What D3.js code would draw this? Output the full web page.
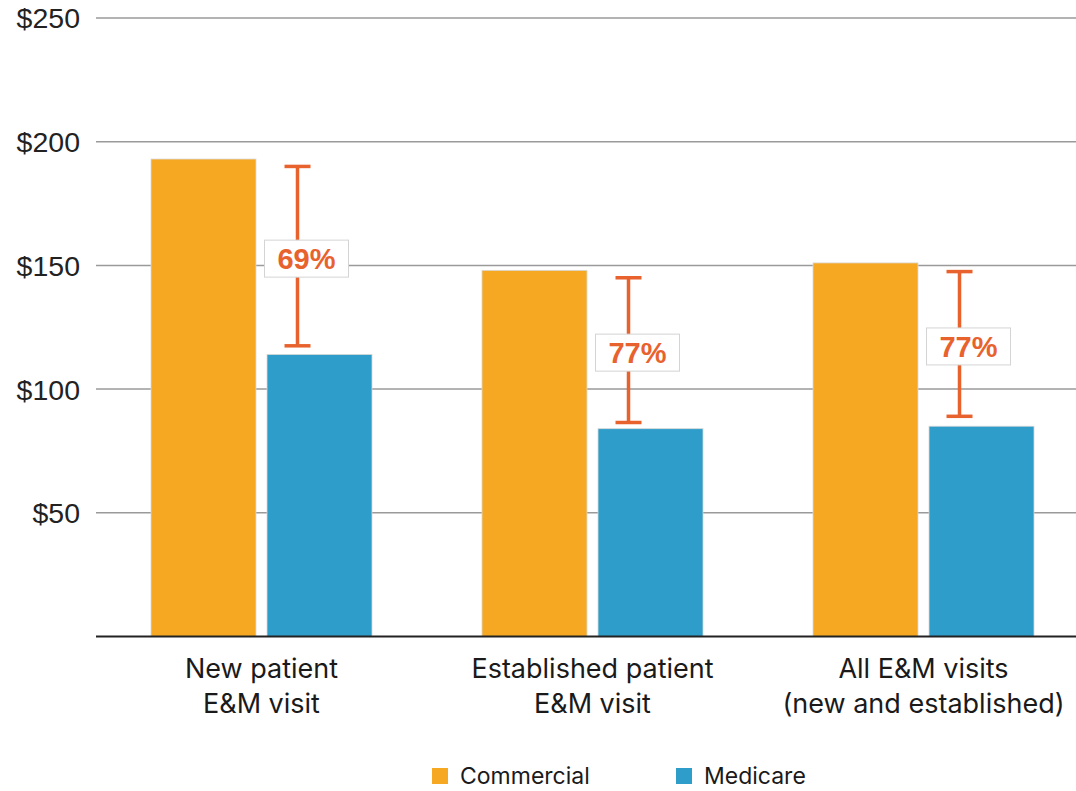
<!DOCTYPE html>
<html>
<head>
<meta charset="utf-8">
<script src="https://cdn.jsdelivr.net/npm/d3@7"></script>
<style>
  html, body { margin: 0; padding: 0; background: #fff; }
  svg { display: block; }
</style>
</head>
<body>
<svg id="chart" width="1076" height="791"></svg>
<script>
// Average payment per E&M visit, commercial vs. Medicare
const categories = [
  ["New patient", "E&M visit"],
  ["Established patient", "E&M visit"],
  ["All E&M visits", "(new and established)"]
];
const seriesNames = ["Commercial", "Medicare"];
const commercial = [193, 148, 151];
const medicare = [114, 84, 85];
// Gap bracket ends and the ratio labels drawn on them
const gapHigh = [190, 145, 147.5];
const gapLow = [117.5, 86.5, 89];
const gapLabels = ["69%", "77%", "77%"];
const yTicks = [50, 100, 150, 200, 250];

const colors = { Commercial: "#F7A823", Medicare: "#2E9DCA" };
const accent = "#E8622E";

const svg = d3.select("#chart");
const W = 1076;
const left = 96, baseY = 636.5, topY = 18;

const y = d3.scaleLinear().domain([0, 250]).range([baseY, topY]);
const x0 = d3.scaleBand().domain(d3.range(categories.length))
  .range([left, left + 331 * 3]).paddingInner(0).paddingOuter(0);
const x1 = d3.scaleBand().domain(seriesNames)
  .range([55, x0.bandwidth() - 55]).paddingInner(0.095);

// Gridlines and tick labels
const yAxis = d3.axisLeft(y).tickValues(yTicks).tickSize(0).tickFormat(d => "$" + d);
const gy = svg.append("g").attr("transform", `translate(${left},0)`).call(yAxis);
gy.select(".domain").remove();
gy.selectAll("text")
  .attr("x", -16)
  .attr("dy", "0.35em")
  .style("font-family", "Liberation Sans, Arial, sans-serif")
  .style("font-size", "28.5px")
  .attr("fill", "#222");
svg.append("g").selectAll("line").data(yTicks).join("line")
  .attr("x1", left).attr("x2", W)
  .attr("y1", d => y(d)).attr("y2", d => y(d))
  .attr("stroke", "#9a9a9a").attr("stroke-width", 1.5);

// Bars
const groups = svg.append("g").selectAll("g").data(categories).join("g")
  .attr("transform", (d, i) => `translate(${x0(i)},0)`);
groups.selectAll("rect")
  .data((d, i) => [
    { s: "Commercial", v: commercial[i] },
    { s: "Medicare", v: medicare[i] }
  ])
  .join("rect")
  .attr("x", d => x1(d.s))
  .attr("width", x1.bandwidth())
  .attr("y", d => y(d.v))
  .attr("height", d => y(0) - y(d.v))
  .attr("fill", d => colors[d.s])
  .attr("stroke", "#d8d8d8")
  .attr("stroke-width", 0.8);

// Baseline
svg.append("line")
  .attr("x1", left).attr("x2", W)
  .attr("y1", baseY).attr("y2", baseY)
  .attr("stroke", "#222").attr("stroke-width", 2);

// Gap brackets with ratio labels
const bx = i => x0(i) + x0.bandwidth() / 2 + 36;
const midY = i => (y(gapHigh[i]) + y(gapLow[i])) / 2 + 2.5;
const brackets = svg.append("g").selectAll("g").data(gapLabels).join("g");
brackets.append("line")
  .attr("x1", (d, i) => bx(i)).attr("x2", (d, i) => bx(i))
  .attr("y1", (d, i) => y(gapHigh[i])).attr("y2", (d, i) => y(gapLow[i]))
  .attr("stroke", accent).attr("stroke-width", 3.5);
[gapHigh, gapLow].forEach(arr => {
  brackets.append("line")
    .attr("x1", (d, i) => bx(i) - 13).attr("x2", (d, i) => bx(i) + 13)
    .attr("y1", (d, i) => y(arr[i])).attr("y2", (d, i) => y(arr[i]))
    .attr("stroke", accent).attr("stroke-width", 3.5);
});
brackets.append("rect")
  .attr("x", (d, i) => bx(i) - 33)
  .attr("y", (d, i) => midY(i) - 18.5)
  .attr("width", 84).attr("height", 37)
  .attr("fill", "#fff").attr("stroke", "#d4d4d4").attr("stroke-width", 1);
brackets.append("text")
  .attr("x", (d, i) => bx(i) + 9)
  .attr("y", (d, i) => midY(i) + 0.5)
  .attr("dy", "0.35em")
  .attr("text-anchor", "middle")
  .style("font-family", "Liberation Sans, Arial, sans-serif")
  .style("font-weight", "bold")
  .style("font-size", "29px")
  .attr("fill", accent)
  .text(d => d);

// Category labels
const labels = svg.append("g").selectAll("text").data(categories).join("text")
  .attr("x", (d, i) => x0(i) + x0.bandwidth() / 2)
  .attr("y", 678)
  .attr("text-anchor", "middle")
  .style("font-family", "Inter, 'Noto Sans', sans-serif")
  .style("font-size", "27px")
  .attr("fill", "#1a1a1a");
labels.selectAll("tspan").data(d => d).join("tspan")
  .attr("x", function () { return d3.select(this.parentNode).attr("x"); })
  .attr("dy", (d, j) => j === 0 ? 0 : 35)
  .text(d => d);

// Legend
const legendX = [432, 676];
const legend = svg.append("g").selectAll("g").data(seriesNames).join("g")
  .attr("transform", (d, i) => `translate(${legendX[i]},768)`);
legend.append("rect")
  .attr("width", 16).attr("height", 16)
  .attr("fill", d => colors[d]);
legend.append("text")
  .attr("x", 28).attr("y", 8).attr("dy", "0.36em")
  .style("font-family", "Inter, 'Noto Sans', sans-serif")
  .style("font-size", "23px")
  .attr("fill", "#1a1a1a")
  .text(d => d);
</script>
</body>
</html>
